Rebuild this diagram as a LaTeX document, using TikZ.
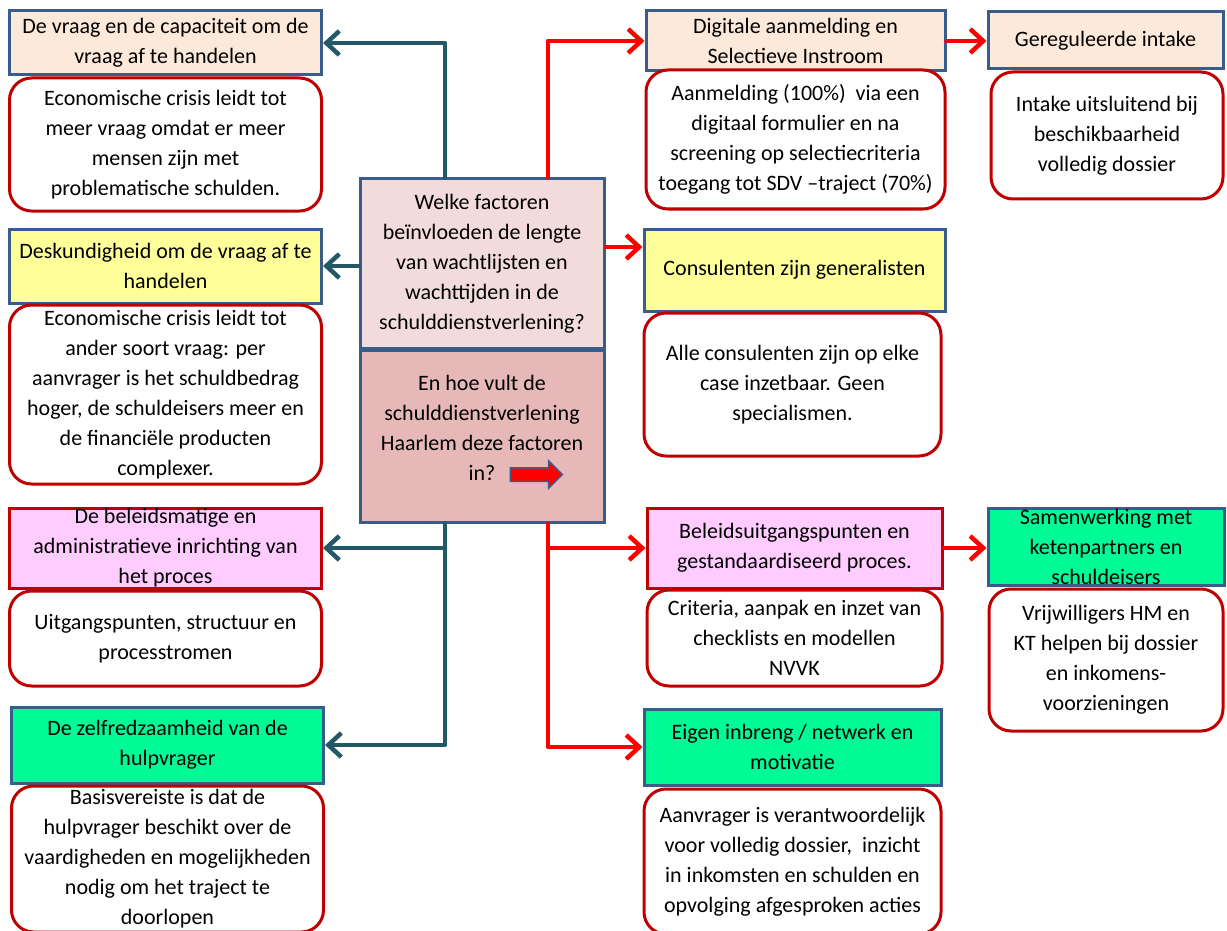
\documentclass[tikz,border=0pt]{standalone}
\usepackage{fontspec}
\setmainfont{Carlito}
\usetikzlibrary{arrows.meta,shapes.arrows}
\definecolor{perzik}{RGB}{253,233,217}
\definecolor{geel}{RGB}{255,255,153}
\definecolor{roze}{RGB}{255,204,255}
\definecolor{groen}{RGB}{0,250,150}
\definecolor{vraaglicht}{RGB}{242,220,219}
\definecolor{vraagdonker}{RGB}{230,185,184}
\definecolor{randblauw}{RGB}{56,93,138}
\definecolor{donkerrood}{RGB}{192,0,0}
\definecolor{blauwgroen}{RGB}{35,88,102}
\definecolor{felrood}{RGB}{255,0,0}

\begin{document}
\begin{tikzpicture}[x=1pt,y=-1pt,
kop/.style={rectangle, draw=randblauw, line width=3pt, align=center, inner sep=0pt, font=\fontsize{22}{30}\selectfont},
tekst/.style={rectangle, rounded corners=22pt, draw=donkerrood, fill=white, line width=3pt, align=center, inner sep=0pt, font=\fontsize{22}{30}\selectfont},
pijlb/.style={draw=blauwgroen, line width=4.5pt, line cap=round, line join=round, -{Straight Barb[length=13pt,width=24pt]}},
pijlr/.style={draw=felrood, line width=4.5pt, line cap=round, line join=round, -{Straight Barb[length=13pt,width=24pt]}},
]

\useasboundingbox (0,0) rectangle (1227,931);

%\draw[help lines] (0,0) grid[step=50] (1227,931);

% links
\node [kop, fill=perzik, minimum width=312pt, minimum height=64pt] (K1) at (165.5,43) {De vraag en de capaciteit om de\\vraag af te handelen};
\node [kop, fill=geel, minimum width=312pt, minimum height=74pt] (K2) at (165.5,266) {Deskundigheid om de vraag af te\\handelen};
\node [kop, fill=roze, draw=donkerrood, minimum width=312pt, minimum height=80pt] (K3) at (165.5,548) {De beleidsmatige en\\administratieve inrichting van\\het proces};
\node [kop, fill=groen, minimum width=312pt, minimum height=76pt] (K4) at (167.5,745) {De zelfredzaamheid van de\\hulpvrager};

\node [tekst, minimum width=312pt, minimum height=133pt] (T1) at (165.5,144.5) {Economische crisis leidt tot\\meer vraag omdat er meer\\mensen zijn met\\problematische schulden.};
\node [tekst, minimum width=312pt, minimum height=179pt] (T2) at (165.5,394.5) {Economische crisis leidt tot\\ander soort vraag: per\\aanvrager is het schuldbedrag\\hoger, de schuldeisers meer en\\de financiële producten\\complexer.};
\node [tekst, minimum width=312pt, minimum height=95pt] (T3) at (165.5,638.5) {Uitgangspunten, structuur en\\processtromen};
\node [tekst, minimum width=312pt, minimum height=146pt] (T4) at (167.5,859) {Basisvereiste is dat de\\hulpvrager beschikt over de\\vaardigheden en mogelijkheden\\nodig om het traject te\\doorlopen};

% midden
\node [kop, fill=vraaglicht, minimum width=244pt, minimum height=169pt] (V1) at (482,263.5) {Welke factoren\\beïnvloeden de lengte\\van wachtlijsten en\\wachttijden in de\\schulddienstverlening?};
\node [kop, fill=vraagdonker, minimum width=244pt, minimum height=172pt] (V2) at (482,436) {};
\node [align=center, inner sep=0pt, font=\fontsize{22}{30}\selectfont] (V2t) at (482,428) {En hoe vult de\\schulddienstverlening\\Haarlem deze factoren\\in?};
\node [single arrow, draw=randblauw, fill=felrood, line width=1.5pt, inner xsep=0pt, inner ysep=6pt, minimum height=52pt, single arrow head extend=7pt] (P) at (533,474.5) {};

% rechts
\node [kop, fill=perzik, minimum width=299pt, minimum height=60pt] (K5) at (795.5,41) {Digitale aanmelding en\\Selectieve Instroom};
\node [kop, fill=perzik, minimum width=235pt, minimum height=57pt] (K6) at (1105.5,40.5) {Gereguleerde intake};
\node [kop, fill=geel, minimum width=301pt, minimum height=82pt] (K7) at (794.5,270) {Consulenten zijn generalisten};
\node [kop, fill=roze, draw=donkerrood, minimum width=295pt, minimum height=80pt] (K8) at (794.5,548) {Beleidsuitgangspunten en\\gestandaardiseerd proces.};
\node [kop, fill=groen, minimum width=236pt, minimum height=77pt] (K9) at (1106,546.5) {Samenwerking met\\ketenpartners en\\schuldeisers};
\node [kop, fill=groen, minimum width=297pt, minimum height=76pt] (K10) at (792.5,747) {Eigen inbreng / netwerk en\\motivatie};

\node [tekst, minimum width=299pt, minimum height=139pt] (T5) at (795.5,139.5) {Aanmelding (100\%)\ \ via een\\digitaal formulier en na\\screening op selectiecriteria\\toegang tot SDV –traject (70\%)};
\node [tekst, minimum width=232pt, minimum height=127pt] (T6) at (1107,135.5) {Intake uitsluitend bij\\beschikbaarheid\\volledig dossier};
\node [tekst, minimum width=297pt, minimum height=143pt] (T7) at (792.5,384.5) {Alle consulenten zijn op elke\\case inzetbaar. Geen\\specialismen.};
\node [tekst, minimum width=295pt, minimum height=96pt] (T8) at (794.5,638) {Criteria, aanpak en inzet van\\checklists en modellen\\NVVK};
\node [tekst, minimum width=234pt, minimum height=142pt] (T9) at (1106,660) {Vrijwilligers HM en\\KT helpen bij dossier\\en inkomens-\\voorzieningen};
\node [tekst, minimum width=297pt, minimum height=145pt] (T10) at (792.5,861.5) {Aanvrager is verantwoordelijk\\voor volledig dossier,\ \ inzicht\\in inkomsten en schulden en\\opvolging afgesproken acties};

\coordinate (tb) at (445,0);
\coordinate (tr) at (548,0);
\coordinate (h) at (0,247);

\draw [pijlb] (V1.north -| tb) |- (K1.east);
\draw [pijlb] (V1.west |- K2.east) -- (K2.east);
\draw [pijlb] (V2.south -| tb) |- (K4.east);
\draw [pijlb] (K3.east -| tb) -- (K3.east);

\draw [pijlr] (V1.north -| tr) |- (K5.west);
\draw [pijlr] (V1.east |- h) -- (K7.west |- h);
\draw [pijlr] (V2.south -| tr) |- (K10.west);
\draw [pijlr] (K8.west -| tr) -- (K8.west);
\draw [pijlr] (K5.east) -- (K5.east -| K6.west);
\draw [pijlr] (K8.east) -- (K8.east -| K9.west);
\end{tikzpicture}
\end{document}
